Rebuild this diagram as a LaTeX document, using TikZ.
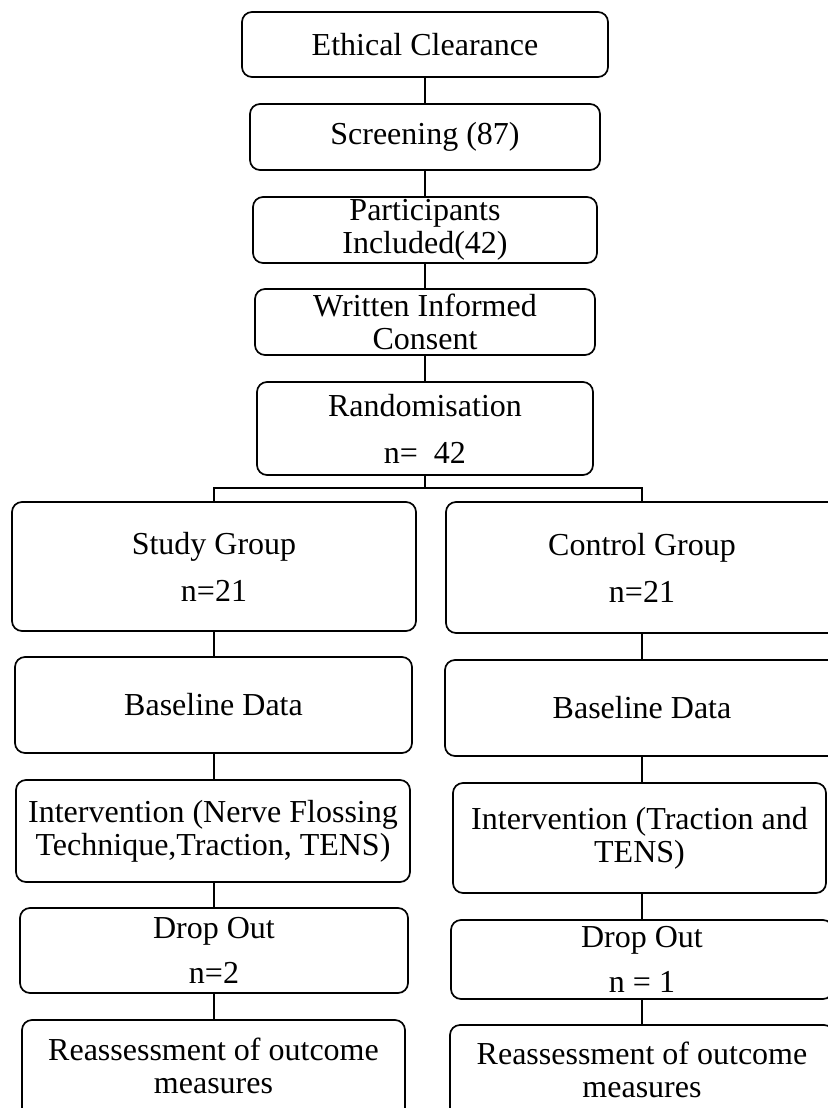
\documentclass[tikz,border=0pt]{standalone}
\usepackage{fontspec}
\setmainfont{Liberation Serif}
\begin{document}
\begin{tikzpicture}[x=1pt,y=-1pt,
  box/.style={draw, line width=1.7pt, rounded corners=10pt, inner sep=0pt,
    align=center, font=\fontsize{32}{33}\selectfont},
  conn/.style={line width=1.7pt}]
\useasboundingbox (0,0) rectangle (827,1108);
% top chain
\node[box, minimum width=366, minimum height=65] (eth) at (425,44.5) {Ethical Clearance};
\node[box, minimum width=350, minimum height=66] (scr) at (425,137) {Screening (87)};
\node[box, minimum width=344, minimum height=66] (par) at (425,230) {Participants\\Included(42)};
\node[box, minimum width=340, minimum height=66] (wic) at (425,322) {Written Informed\\Consent};
\node[box, minimum width=336, minimum height=93] (ran) at (425,428.5) {Randomisation\\[14pt]n=\ \ 42};
% left column
\node[box, minimum width=404, minimum height=129] (sg) at (214,566.5) {Study Group\\[14pt]n=21};
\node[box, minimum width=397, minimum height=96] (bl) at (213.5,705) {Baseline Data};
\node[box, minimum width=394, minimum height=102] (il) at (213,831) {Intervention (Nerve Flossing\\Technique,Traction, TENS)};
\node[box, minimum width=388, minimum height=85] (dl) at (214,950.5) {Drop Out\\[12pt]n=2};
\node[box, minimum width=383, minimum height=110, text depth=18pt] (rl) at (213.5,1075) {Reassessment of outcome\\measures};
% right column
\node[box, minimum width=392, minimum height=131] (cg) at (642,567.5) {Control Group\\[14pt]n=21};
\node[box, minimum width=394, minimum height=96] (br) at (642,708) {Baseline Data};
\node[box, minimum width=373, minimum height=110] (ir) at (639.5,838) {Intervention (Traction and\\TENS)};
\node[box, minimum width=382, minimum height=79] (dr) at (642,959.5) {Drop Out\\[12pt]n = 1};
\node[box, minimum width=384, minimum height=110, text depth=20pt] (rr) at (642,1080) {Reassessment of outcome\\measures};
\coordinate (lx) at (214,0);
\coordinate (rx) at (642,0);
\coordinate (bar) at (425,488);
% connectors
\draw[conn] (eth.south) -- (scr.north);
\draw[conn] (scr.south) -- (par.north);
\draw[conn] (par.south) -- (wic.north);
\draw[conn] (wic.south) -- (ran.north);
\draw[conn] (ran.south) -- (bar);
\draw[conn] (sg.north -| lx) |- (bar -| rx) -- (cg.north -| rx);
\draw[conn] (sg.south -| lx) -- (bl.north -| lx);
\draw[conn] (bl.south -| lx) -- (il.north -| lx);
\draw[conn] (il.south -| lx) -- (dl.north -| lx);
\draw[conn] (dl.south -| lx) -- (rl.north -| lx);
\draw[conn] (cg.south -| rx) -- (br.north -| rx);
\draw[conn] (br.south -| rx) -- (ir.north -| rx);
\draw[conn] (ir.south -| rx) -- (dr.north -| rx);
\draw[conn] (dr.south -| rx) -- (rr.north -| rx);
\end{tikzpicture}
\end{document}
